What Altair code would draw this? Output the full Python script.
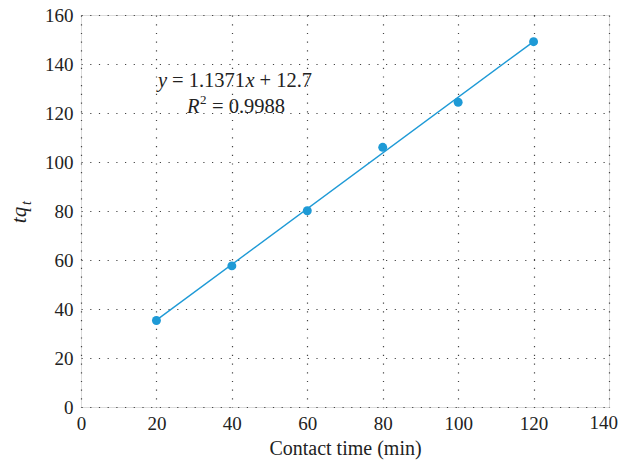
import altair as alt
import pandas as pd

contact_time = [20, 40, 60, 80, 100, 120]
tqt = [35.3, 57.6, 80.1, 106.0, 124.4, 149.1]
slope = 1.1371
intercept = 12.7
fit_x = [20, 120]
fit_y = [slope * v + intercept for v in fit_x]

pts = pd.DataFrame({"x": contact_time, "y": tqt})
fit = pd.DataFrame({"x": fit_x, "y": fit_y})

BLUE = "#1e9ad6"
FONT = "Liberation Serif"
TXT = "#222222"

xs = alt.Scale(domain=[0, 140], nice=False)
ys = alt.Scale(domain=[0, 160], nice=False)

xax = alt.Axis(values=[0, 20, 40, 60, 80, 100, 120, 140], title="Contact time (min)",
               grid=True, gridDash=[1.2, 7.5], gridColor="#444", gridWidth=1.2,
               domain=False, ticks=False, labelPadding=7, labelFontSize=19,
               titleFontSize=20, titlePadding=5, labelFont=FONT, titleFont=FONT,
               labelColor=TXT, titleColor=TXT, titleFontWeight="normal",
               labelFlush=False, labelOverlap=False,
               labelExpr="datum.value == 140 ? '' : datum.label")
yax = alt.Axis(values=[0, 20, 40, 60, 80, 100, 120, 140, 160], title=None,
               grid=True, gridDash=[1.2, 7.5], gridColor="#444", gridWidth=1.2,
               domain=False, ticks=False, labelPadding=8, labelFontSize=19,
               labelFont=FONT, labelColor=TXT, labelFlush=False, labelOverlap=False)

line = alt.Chart(fit).mark_line(color=BLUE, strokeWidth=1.4).encode(
    x=alt.X("x:Q", scale=xs, axis=xax),
    y=alt.Y("y:Q", scale=ys, axis=yax),
)
points = alt.Chart(pts).mark_circle(color=BLUE, opacity=1, size=80).encode(
    x=alt.X("x:Q", scale=xs),
    y=alt.Y("y:Q", scale=ys),
)

def label(text, px, py, size=20.5, style="normal", angle=0, align="left", baseline="alphabetic"):
    return alt.Chart(pd.DataFrame({"t": [text]})).mark_text(
        font=FONT, fontSize=size, fontStyle=style, color=TXT, align=align,
        baseline=baseline, angle=angle
    ).encode(x=alt.value(px), y=alt.value(py), text="t:N")

# plot area origin on screen: (81, 15)
OX, OY = 81, 15
annots = [
    label("y", 158 - OX, 87 - OY, style="italic"),
    label("= 1.1371", 172 - OX, 87 - OY),
    label("x", 245.5 - OX, 87 - OY, style="italic"),
    label("+ 12.7", 259.5 - OX, 87 - OY),
    label("R", 187 - OX, 113 - OY, style="italic"),
    label("2", 200 - OX, 104 - OY, size=13),
    label("= 0.9988", 212 - OX, 113 - OY),
    # y axis title tq_t (rotated)
    label("tq", 26 - OX, 215 - OY, size=21, style="italic", angle=270, align="center"),
    label("t", 31 - OX, 203 - OY, size=14, style="italic", angle=270, align="center"),
    # last x tick label, kept inside the page edge
    label("140", 537, 399, size=19, align="right", baseline="top"),
]

chart = alt.layer(line, points, *annots).properties(
    width=528, height=392,
    autosize=alt.AutoSizeParams(type="none"),
    padding={"left": 73, "top": 7, "right": 9, "bottom": 53},
).configure_view(stroke="#555", strokeWidth=1.6).configure(background="white")

chart.save("out.html", embed_options={"renderer": "svg", "actions": False})
